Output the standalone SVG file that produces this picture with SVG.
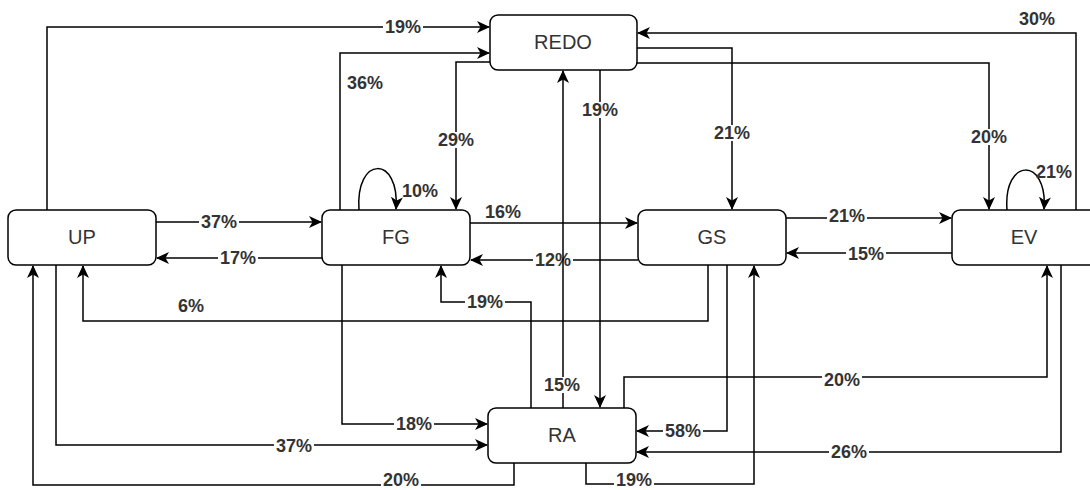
<svg xmlns="http://www.w3.org/2000/svg" width="1090" height="490" viewBox="0 0 1090 490">
<style>
.n{fill:#fff;stroke:#000;stroke-width:1.5}
.nt{font-family:"Liberation Sans",Arial,sans-serif;font-size:20px;fill:#333;text-anchor:middle}
.ca{fill:none;stroke:#000;stroke-width:1.5;marker-end:url(#a)}
.l{font-family:"Liberation Sans",Arial,sans-serif;font-size:18px;font-weight:bold;fill:#333;text-anchor:middle}
.bg{fill:#fff}
</style>
<defs>
<marker id="a" viewBox="0 0 13 12" refX="12" refY="6" markerWidth="13" markerHeight="12" markerUnits="userSpaceOnUse" orient="auto">
<path d="M0,0 L13,6 L0,12 L3.5,6 z" fill="#000"/>
</marker>
</defs>
<rect width="1090" height="490" fill="#fff"/>
<g id="connectors">
<path class="ca" d="M47,210 V27 H489"/>
<path class="ca" d="M340,210 V53 H489"/>
<path class="ca" d="M490,62 H456 V209"/>
<path class="ca" d="M359,210 C355,155 400,155 396,209"/>
<path class="ca" d="M156,222 H321"/>
<path class="ca" d="M470,223 H637"/>
<path class="ca" d="M322,258 H157"/>
<path class="ca" d="M638,260 H471"/>
<path class="ca" d="M786,218 H951"/>
<path class="ca" d="M952,253 H787"/>
<path class="ca" d="M637,48 H732 V209"/>
<path class="ca" d="M637,63 H989 V209"/>
<path class="ca" d="M1076,210 V33 H638"/>
<path class="ca" d="M1007,210 C1003,157 1048,157 1044,209"/>
<path class="ca" d="M600,70 V407"/>
<path class="ca" d="M708,265 V321 H83 V266"/>
<path class="ca" d="M531,408 V302 H441 V266"/>
<path class="ca" d="M342,265 V424 H487"/>
<path class="ca" d="M56,265 V445 H487"/>
<path class="ca" d="M514,463 V485 H33 V266"/>
<path class="ca" d="M727,265 V431 H637"/>
<path class="ca" d="M1061,265 V452 H637"/>
<path class="ca" d="M624,408 V377 H1047 V266"/>
<path class="ca" d="M586,463 V484 H754 V266"/>

<rect class="bg" x="383" y="19" width="40" height="16"/><text class="l" x="403" y="33">19%</text>
<text class="l" x="365" y="89">36%</text>
<rect class="bg" x="436" y="132" width="40" height="16"/><text class="l" x="456" y="146">29%</text>
<text class="l" x="420" y="197">10%</text>
<rect class="bg" x="199" y="214" width="40" height="16"/><text class="l" x="219" y="228">37%</text>
<text class="l" x="503" y="218">16%</text>
<rect class="bg" x="218" y="250" width="40" height="16"/><text class="l" x="238" y="264">17%</text>
<rect class="bg" x="533" y="252" width="40" height="16"/><text class="l" x="553" y="266">12%</text>
<rect class="bg" x="712" y="125" width="40" height="16"/><text class="l" x="732" y="139">21%</text>
<rect class="bg" x="580" y="102" width="40" height="16"/><text class="l" x="600" y="116">19%</text>
<rect class="bg" x="969" y="129" width="40" height="16"/><text class="l" x="989" y="143">20%</text>
<text class="l" x="1037" y="25">30%</text>
<text class="l" x="1054" y="178">21%</text>
<rect class="bg" x="827" y="208" width="40" height="16"/><text class="l" x="847" y="222">21%</text>
<rect class="bg" x="846" y="246" width="40" height="16"/><text class="l" x="866" y="260">15%</text>
<text class="l" x="191" y="312">6%</text>
<rect class="bg" x="465" y="294" width="40" height="16"/><text class="l" x="485" y="308">19%</text>
<rect class="bg" x="822" y="370" width="40" height="16"/><text class="l" x="842" y="386">20%</text>
<rect class="bg" x="394" y="416" width="40" height="16"/><text class="l" x="414" y="430">18%</text>
<rect class="bg" x="274" y="438" width="40" height="16"/><text class="l" x="294" y="452">37%</text>
<rect class="bg" x="663" y="423" width="40" height="16"/><text class="l" x="683" y="437">58%</text>
<rect class="bg" x="829" y="444" width="40" height="16"/><text class="l" x="849" y="458">26%</text>
<rect class="bg" x="381" y="474" width="40" height="16"/><text class="l" x="401" y="486">20%</text>
<rect class="bg" x="614" y="474" width="40" height="16"/><text class="l" x="634" y="486">19%</text>
<path class="ca" d="M563,408 V71"/>
<rect class="bg" x="542" y="377" width="40" height="16"/><text class="l" x="562" y="391">15%</text>
</g>
<g id="node-up"><rect class="n" x="8" y="210" width="148" height="55" rx="8"/><text class="nt" x="82" y="244">UP</text></g>
<g id="node-fg"><rect class="n" x="322" y="210" width="148" height="55" rx="8"/><text class="nt" x="396" y="244">FG</text></g>
<g id="node-gs"><rect class="n" x="638" y="210" width="148" height="55" rx="8"/><text class="nt" x="712" y="244">GS</text></g>
<g id="node-ev"><rect class="n" x="952" y="210" width="148" height="55" rx="8"/><text class="nt" x="1024" y="244">EV</text></g>
<g id="node-redo"><rect class="n" x="490" y="15" width="147" height="55" rx="8"/><text class="nt" x="563" y="49">REDO</text></g>
<g id="node-ra"><rect class="n" x="488" y="408" width="148" height="55" rx="8"/><text class="nt" x="562" y="442">RA</text></g>
</svg>
